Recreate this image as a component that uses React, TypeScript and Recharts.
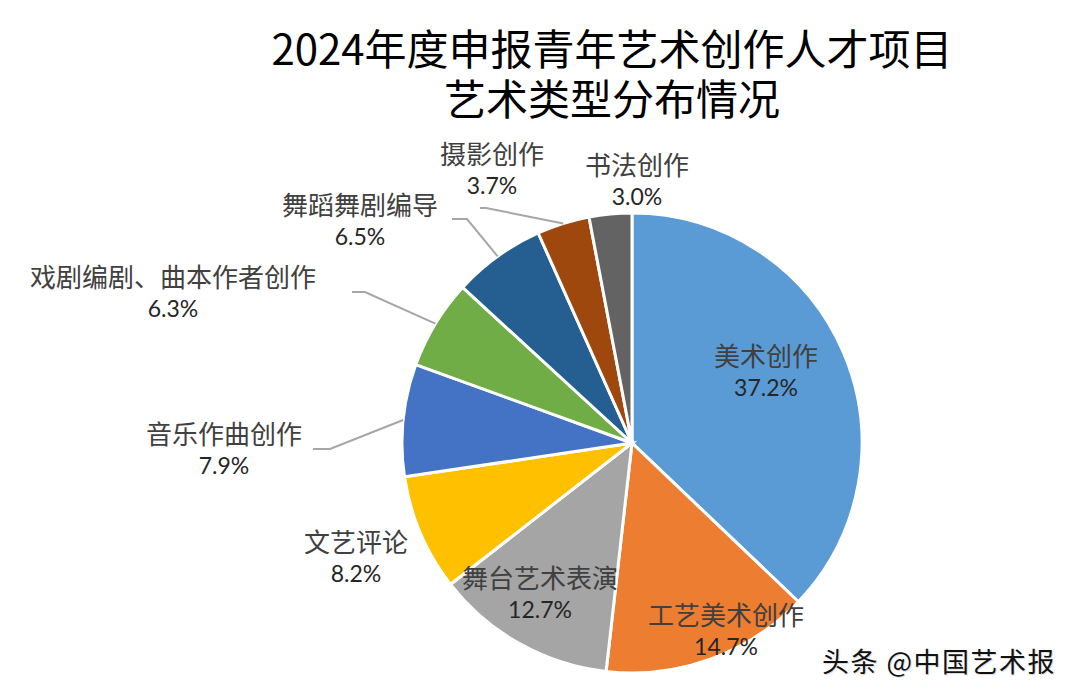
import { PieChart, Pie, Cell } from 'recharts';

const categories = [
  '美术创作',
  '工艺美术创作',
  '舞台艺术表演',
  '文艺评论',
  '音乐作曲创作',
  '戏剧编剧、曲本作者创作',
  '舞蹈舞剧编导',
  '摄影创作',
  '书法创作'
];
const shares = [37.2, 14.7, 12.7, 8.2, 7.9, 6.3, 6.5, 3.7, 3.0];
const shareLabels = ['37.2%', '14.7%', '12.7%', '8.2%', '7.9%', '6.3%', '6.5%', '3.7%', '3.0%'];

const colors = [
  '#5b9bd5',
  '#ed7d31',
  '#a5a5a5',
  '#ffc000',
  '#4472c4',
  '#70ad47',
  '#255e91',
  '#9e480e',
  '#636363'
];

// label centre relative to pie centre, optional leader [elbowX, elbowY, endX]
const labelLayout: { dx: number; dy: number; leader?: [number, number, number] }[] = [
  { dx: 134, dy: -89 },
  { dx: 94, dy: 170 },
  { dx: -92, dy: 133 },
  { dx: -276, dy: 97 },
  { dx: -408, dy: -11, leader: [-302, 6, -319] },
  { dx: -459, dy: -168, leader: [-267, -151, -280] },
  { dx: -272, dy: -240, leader: [-165, -224, -180] },
  { dx: -140, dy: -291, leader: [-146, -235, -152] },
  { dx: 5, dy: -280 }
];

const data = categories.map((name, i) => ({ name, value: shares[i] }));

const RAD = Math.PI / 180;
const cjk = "'Noto Sans CJK SC', 'Noto Sans', sans-serif";
const num = "Lato, 'Noto Sans', 'Noto Sans CJK SC', sans-serif";

function renderLabel(props: any) {
  const { cx, cy, midAngle, outerRadius, index } = props;
  const lay = labelLayout[index];
  const x = cx + lay.dx;
  const y = cy + lay.dy;
  let line = null;
  if (lay.leader) {
    const sx = cx + outerRadius * Math.cos(-midAngle * RAD);
    const sy = cy + outerRadius * Math.sin(-midAngle * RAD);
    const [ex, ey, endX] = lay.leader;
    line = (
      <polyline
        points={`${sx},${sy} ${cx + ex},${cy + ey} ${cx + endX},${cy + ey}`}
        fill="none"
        stroke="#a6a6a6"
        strokeWidth={2}
      />
    );
  }
  return (
    <g key={`lbl-${index}`}>
      {line}
      <text x={x} y={y} textAnchor="middle" dominantBaseline="central"
        fontFamily={cjk} fontSize={26} fill="#404040">
        {categories[index]}
      </text>
      <text x={x} y={y + 33} textAnchor="middle" dominantBaseline="central"
        fontFamily={num} fontSize={23} fill="#262626">
        {shareLabels[index]}
      </text>
    </g>
  );
}

export default function App() {
  return (
    <div style={{ position: 'absolute', left: 0, top: 0, width: 1080, height: 694, background: '#fff' }}>
      <div style={{
        position: 'absolute', left: 0, width: 1224, top: 22, textAlign: 'center',
        fontFamily: cjk, fontSize: 42, lineHeight: '50px', color: '#000', fontWeight: 400
      }}>
        <div>2024年度申报青年艺术创作人才项目</div>
        <div>艺术类型分布情况</div>
      </div>

      <PieChart width={1080} height={694} margin={{ top: 0, right: 0, bottom: 0, left: 0 }}
        style={{ position: 'absolute', left: 0, top: 0 }}>
        <Pie
          data={data}
          dataKey="value"
          nameKey="name"
          cx={632}
          cy={443}
          outerRadius={230}
          startAngle={90}
          endAngle={-270}
          stroke="#fff"
          strokeWidth={3}
          label={renderLabel}
          labelLine={false}
          isAnimationActive={false}
        >
          {data.map((d, i) => (
            <Cell key={d.name} fill={colors[i]} />
          ))}
        </Pie>
      </PieChart>

      <div style={{
        position: 'absolute', left: 822, top: 641, fontFamily: cjk, fontSize: 27,
        letterSpacing: 1.5, color: '#111', textShadow: '1px 1px 0 #ddd', whiteSpace: 'nowrap'
      }}>
        头条 @中国艺术报
      </div>
    </div>
  );
}
